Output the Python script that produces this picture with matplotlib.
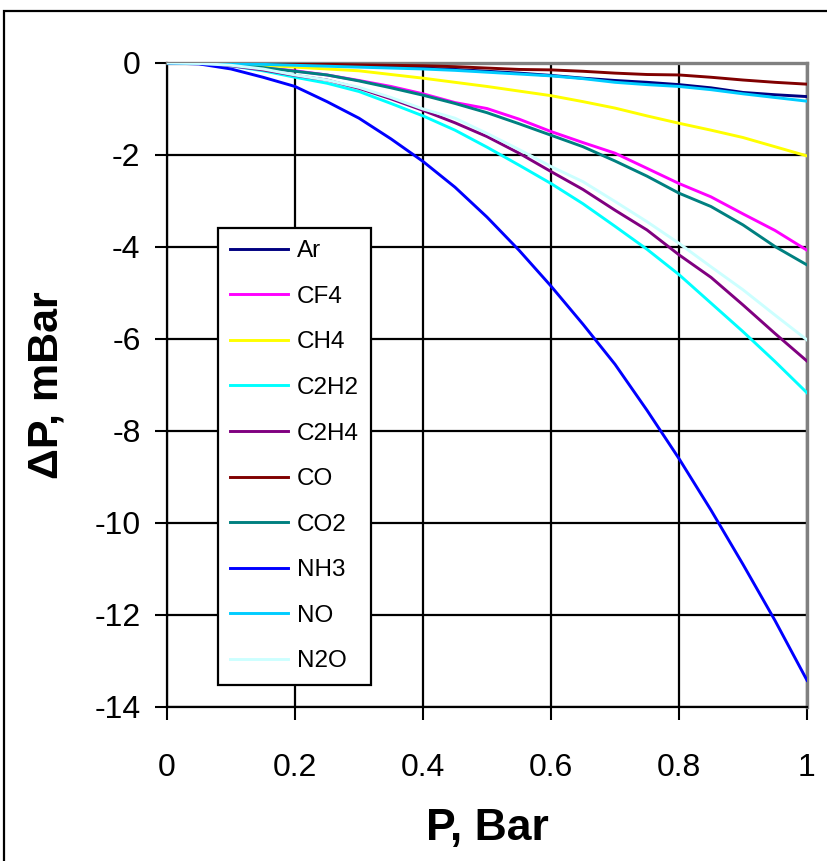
import matplotlib
matplotlib.use('Agg')
import matplotlib.pyplot as plt
from matplotlib.patches import Rectangle

plt.rcParams['font.family'] = ['Liberation Sans', 'DejaVu Sans']
plt.rcParams['axes.unicode_minus'] = False

# pressure, bar
p = [0, 0.05, 0.1, 0.15, 0.2, 0.25, 0.3, 0.35, 0.4, 0.45, 0.5,
     0.55, 0.6, 0.65, 0.7, 0.75, 0.8, 0.85, 0.9, 0.95, 1.0]

# pressure drop, mBar, one list per gas
ar = [0, 0, -0.01, -0.02, -0.04, -0.05, -0.07, -0.09, -0.11, -0.14, -0.18,
      -0.22, -0.27, -0.33, -0.38, -0.42, -0.47, -0.54, -0.64, -0.69, -0.73]
cf4 = [0, -0.01, -0.04, -0.10, -0.17, -0.26, -0.38, -0.51, -0.67, -0.86, -0.99,
       -1.22, -1.49, -1.73, -1.96, -2.29, -2.62, -2.91, -3.28, -3.64, -4.07]
ch4 = [0, 0, -0.02, -0.05, -0.09, -0.13, -0.17, -0.25, -0.33, -0.42, -0.51,
       -0.61, -0.71, -0.84, -0.98, -1.15, -1.31, -1.46, -1.62, -1.82, -2.02]
c2h2 = [0, -0.01, -0.06, -0.17, -0.31, -0.44, -0.62, -0.88, -1.15, -1.46, -1.83,
        -2.22, -2.62, -3.06, -3.55, -4.05, -4.60, -5.22, -5.84, -6.49, -7.17]
c2h4 = [0, -0.01, -0.06, -0.15, -0.27, -0.37, -0.55, -0.78, -1.03, -1.30, -1.60,
        -1.96, -2.36, -2.75, -3.20, -3.63, -4.17, -4.66, -5.26, -5.88, -6.48]
co = [0, 0, 0, -0.01, -0.02, -0.03, -0.04, -0.05, -0.06, -0.08, -0.11,
      -0.14, -0.15, -0.18, -0.22, -0.25, -0.26, -0.31, -0.37, -0.42, -0.46]
co2 = [0, -0.01, -0.04, -0.10, -0.18, -0.26, -0.39, -0.54, -0.70, -0.88, -1.08,
       -1.32, -1.57, -1.82, -2.13, -2.46, -2.83, -3.12, -3.52, -3.99, -4.39]
nh3 = [0, -0.02, -0.13, -0.31, -0.51, -0.84, -1.20, -1.65, -2.14, -2.70, -3.35,
       -4.07, -4.85, -5.68, -6.55, -7.55, -8.60, -9.72, -10.90, -12.12, -13.42]
no = [0, -0.01, -0.02, -0.03, -0.05, -0.07, -0.09, -0.11, -0.13, -0.16, -0.20,
      -0.24, -0.28, -0.34, -0.42, -0.47, -0.51, -0.58, -0.67, -0.75, -0.83]
n2o = [0, -0.01, -0.05, -0.13, -0.26, -0.37, -0.53, -0.75, -1.00, -1.20, -1.53,
       -1.88, -2.25, -2.58, -3.01, -3.45, -3.92, -4.43, -4.93, -5.48, -6.02]

gases = ['Ar', 'CF4', 'CH4', 'C2H2', 'C2H4', 'CO', 'CO2', 'NH3', 'NO', 'N2O']
series = [ar, cf4, ch4, c2h2, c2h4, co, co2, nh3, no, n2o]
colors = ['#000080', '#FF00FF', '#FFFF00', '#00FFFF', '#800080',
          '#800000', '#008080', '#0000FF', '#00CCFF', '#CCFFFF']

x_ticks = [0, 0.2, 0.4, 0.6, 0.8, 1]
x_labels = ['0', '0.2', '0.4', '0.6', '0.8', '1']
y_ticks = [0, -2, -4, -6, -8, -10, -12, -14]

fig = plt.figure(figsize=(8.28, 8.61), dpi=100)
ax = fig.add_axes([167 / 828, 1 - 707 / 861, 640 / 828, 644 / 861])

for vals, name, c in zip(series, gases, colors):
    ax.plot(p, vals, color=c, lw=2.1, label=name, zorder=3)

ax.set_xlim(0, 1)
ax.set_ylim(-14, 0)
ax.set_xticks(x_ticks)
ax.set_xticklabels(x_labels)
ax.set_yticks(y_ticks)
ax.grid(True, color='black', lw=1.6, zorder=1)
ax.tick_params(axis='both', direction='out', length=9, width=1.5, labelsize=23)
ax.tick_params(axis='x', pad=24)
ax.tick_params(axis='y', pad=10)

for side in ['left', 'bottom']:
    ax.spines[side].set_color('black')
    ax.spines[side].set_linewidth(1.6)
for side in ['top', 'right']:
    ax.spines[side].set_color('#808080')
    ax.spines[side].set_linewidth(2.4)

ax.set_xlabel('P, Bar', fontsize=32, fontweight='bold', labelpad=18)
ax.set_ylabel('ΔP, mBar', fontsize=31, fontweight='bold', labelpad=20)

leg = ax.legend(loc='upper left', bbox_to_anchor=(218 / 828, 1 - 228 / 861),
                bbox_transform=fig.transFigure, borderaxespad=0,
                fontsize=17.5, frameon=True, fancybox=False, framealpha=1,
                edgecolor='black', handlelength=2.4, handletextpad=0.35,
                borderpad=0.5, labelspacing=0.97)
leg.get_frame().set_linewidth(1.6)
leg.set_zorder(5)

# border round the whole chart area
fig.patches.append(Rectangle((4.5 / 828, -0.1), 1.2, 1.1 - 10.5 / 861,
                             transform=fig.transFigure, fill=False,
                             edgecolor='black', lw=1.6))

fig.savefig('out.png', dpi=100)
